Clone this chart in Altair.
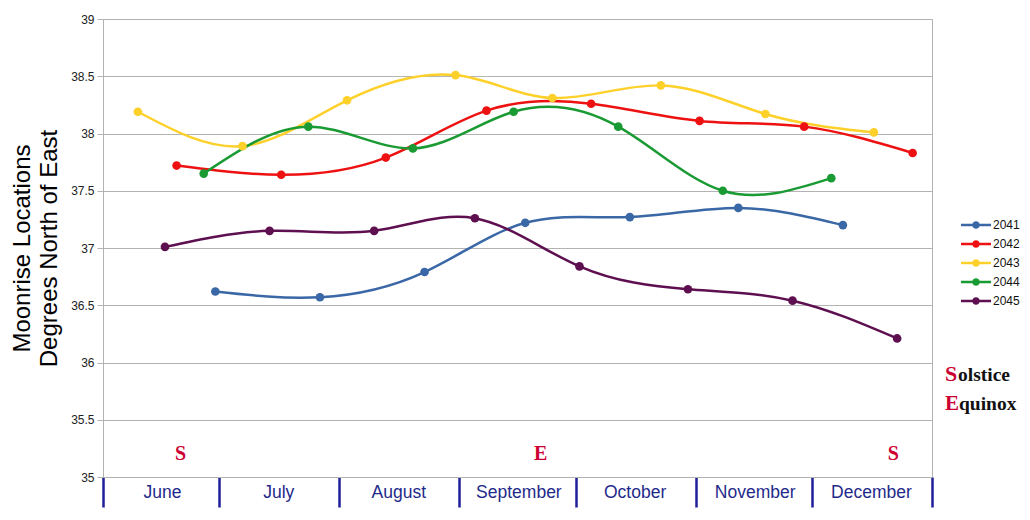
import altair as alt
import pandas as pd

years = ["2041", "2042", "2043", "2044", "2045"]
colors = ["#3a67a6", "#ee1111", "#fdd02a", "#1a9a33", "#5e0f50"]

# all series placed on a common plotting year (2041) so months line up
dates_2041 = ["2041-06-30", "2041-07-27", "2041-08-23", "2041-09-18", "2041-10-15", "2041-11-12", "2041-12-09"]
vals_2041 = [36.62, 36.57, 36.79, 37.22, 37.27, 37.35, 37.20]
dates_2042 = ["2041-06-20", "2041-07-17", "2041-08-13", "2041-09-08", "2041-10-05", "2041-11-02", "2041-11-29", "2041-12-27"]
vals_2042 = [37.72, 37.64, 37.79, 38.20, 38.26, 38.11, 38.06, 37.83]
dates_2043 = ["2041-06-10", "2041-07-07", "2041-08-03", "2041-08-31", "2041-09-25", "2041-10-23", "2041-11-19", "2041-12-17"]
vals_2043 = [38.19, 37.89, 38.29, 38.51, 38.31, 38.42, 38.17, 38.01]
dates_2044 = ["2041-06-27", "2041-07-24", "2041-08-20", "2041-09-15", "2041-10-12", "2041-11-08", "2041-12-06"]
vals_2044 = [37.65, 38.06, 37.87, 38.19, 38.06, 37.50, 37.61]
dates_2045 = ["2041-06-17", "2041-07-14", "2041-08-10", "2041-09-05", "2041-10-02", "2041-10-30", "2041-11-26", "2041-12-23"]
vals_2045 = [37.01, 37.15, 37.15, 37.26, 36.84, 36.64, 36.54, 36.21]

event_labels = ["S", "E", "S"]
event_dates = ["2041-06-21", "2041-09-22", "2041-12-22"]
event_level = [35.2, 35.2, 35.2]

y_ticks = [35, 35.5, 36, 36.5, 37, 37.5, 38, 38.5, 39]
month_starts = [(2041, 6), (2041, 7), (2041, 8), (2041, 9), (2041, 10), (2041, 11), (2041, 12), (2042, 1)]

note_big = ["S", "E"]
note_rest = ["olstice", "quinox"]

series = {
    "2041": (dates_2041, vals_2041),
    "2042": (dates_2042, vals_2042),
    "2043": (dates_2043, vals_2043),
    "2044": (dates_2044, vals_2044),
    "2045": (dates_2045, vals_2045),
}
rows = []
for yr, (ds, vs) in series.items():
    for d, v in zip(ds, vs):
        rows.append({"year": yr, "date": d + "T00:00", "value": v})
df = pd.DataFrame(rows)

ev = pd.DataFrame({"label": event_labels,
                   "date": [d + "T00:00" for d in event_dates],
                   "level": event_level})

tick_vals = [alt.DateTime(year=y, month=m, date=1) for (y, m) in month_starts]

X = alt.X(
    "date:T",
    scale=alt.Scale(domain=[tick_vals[0], tick_vals[-1]]),
    axis=alt.Axis(
        values=tick_vals,
        title=None,
        grid=False,
        domainColor="#b3b3b3",
        tickColor="#1f1f9a",
        tickWidth=2.5,
        tickSize=30,
        labelColor="#1f2a8a",
        labelFontSize=17.5,
        labelPadding=-24,
        labelOffset=59,
        labelAlign="center",
        labelFlush=False,
        labelOverlap=False,
        labelBound=False,
        labelExpr="month(datum.value) == 0 ? '' : timeFormat(datum.value, '%B')",
    ),
)

Y = alt.Y(
    "value:Q",
    scale=alt.Scale(domain=[35, 39], nice=False, zero=False),
    axis=alt.Axis(
        values=y_ticks,
        format="~g",
        title=["Moonrise Locations", "Degrees North of East"],
        titleFontSize=24,
        titleFontWeight="normal",
        titleColor="#000000",
        titleLineHeight=27,
        titlePadding=9,
        gridColor="#b3b3b3",
        domainColor="#b3b3b3",
        tickColor="#b3b3b3",
        tickSize=6,
        labelFontSize=12,
        labelColor="#222222",
        labelPadding=3,
    ),
)

sym_path = ("M-2,0H2 "
            "M0.33,0A0.33,0.33 0 1,1 -0.33,0A0.33,0.33 0 1,1 0.33,0 "
            "M0.07,0A0.07,0.07 0 1,1 -0.07,0A0.07,0.07 0 1,1 0.07,0")

color_scale = alt.Scale(domain=years, range=colors)

lines = alt.Chart(df).mark_line(interpolate="natural", strokeWidth=2.5).encode(
    x=X, y=Y,
    color=alt.Color("year:N", scale=color_scale, legend=alt.Legend(
        title=None, orient="none", legendX=864, legendY=197,
        symbolType=sym_path, symbolSize=225, symbolStrokeWidth=2.5,
        labelFontSize=12, labelColor="#111111", labelOffset=8,
        rowPadding=2, padding=0, symbolOpacity=1,
    )),
    detail="year:N",
)

points = alt.Chart(df).mark_point(filled=True, size=75, opacity=1).encode(
    x=X, y=Y,
    color=alt.Color("year:N", scale=color_scale, legend=None),
)

events = alt.Chart(ev).mark_text(
    font="Liberation Serif", fontWeight="bold", fontSize=20, color="#cc0033", baseline="middle"
).encode(x=X, y=alt.Y("level:Q"), text="label:N")

notes = []
note_y = [362, 391]
note_big_size = [22, 21]
note_rest_x = [855, 856]
for i in range(2):
    notes.append(alt.Chart(pd.DataFrame({"t": [note_big[i]]})).mark_text(
        font="Liberation Serif", fontWeight="bold", fontSize=note_big_size[i], color="#cc0033",
        align="left", baseline="alphabetic"
    ).encode(text="t:N", x=alt.value(842), y=alt.value(note_y[i])))
    notes.append(alt.Chart(pd.DataFrame({"t": [note_rest[i]]})).mark_text(
        font="Liberation Serif", fontWeight="bold", fontSize=19.5, color="#111111",
        align="left", baseline="alphabetic"
    ).encode(text="t:N", x=alt.value(note_rest_x[i]), y=alt.value(note_y[i])))

chart = alt.layer(lines, points, events, *notes).properties(
    width=829, height=458,
    autosize=alt.AutoSizeParams(type="none"),
    padding={"left": 95, "top": 11, "right": 90, "bottom": 35},
).configure(font="Liberation Sans").configure_view(
    stroke="#b3b3b3", strokeWidth=1
)

chart.save("out.html", embed_options={"renderer": "svg", "actions": False})
